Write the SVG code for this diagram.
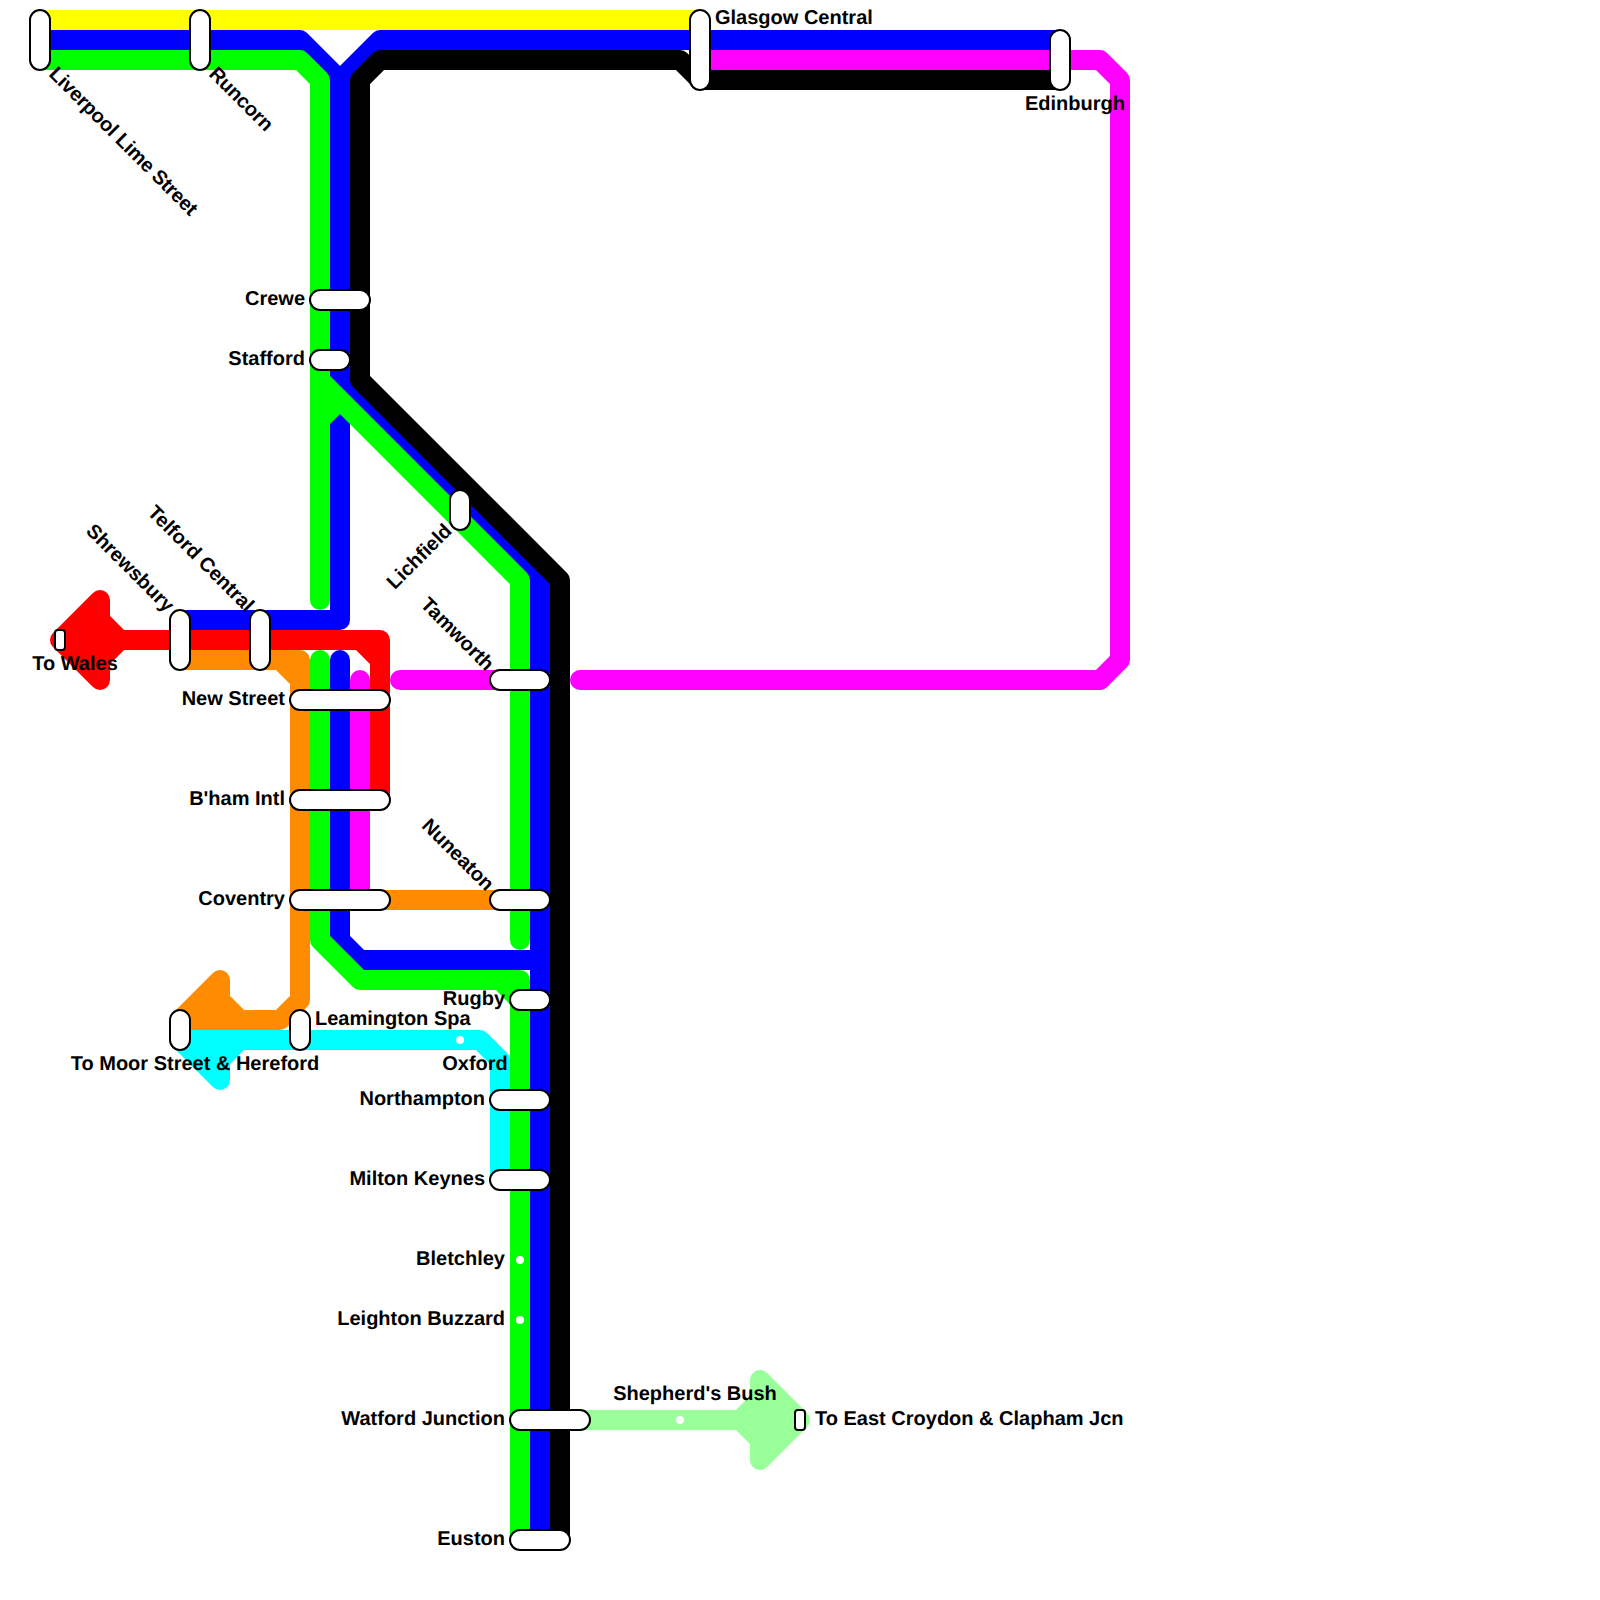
<svg xmlns="http://www.w3.org/2000/svg" width="1600" height="1600" viewBox="0 0 1600 1600">
<style>
.l{fill:none;stroke-width:20;stroke-linejoin:round}
.r{stroke-linecap:round}
.a{stroke-width:20;stroke-linejoin:round}
.s{fill:#fff;stroke:#000;stroke-width:2}
.d{fill:#fff}
text{font-family:"Liberation Sans",Arial,sans-serif;font-size:20px;font-weight:bold;fill:#000;text-rendering:geometricPrecision}
.e{text-anchor:end}
.m{text-anchor:middle}
.n{letter-spacing:-0.2px}
</style>
<rect width="1600" height="1600" fill="#fff"/>
<g id="connectors">
<path class="l" stroke="#ff0" d="M40 20H700"/>
<path class="l" stroke="#00f" d="M40 40H300L340 80V380L540 580V1540"/>
<path class="l" stroke="#00f" d="M340 80L380 40H1060"/>
<path class="l" stroke="#00f" d="M340 400V620H180"/>
<path class="l r" stroke="#00f" d="M340 660V940L360 960H540"/>
<path class="l" stroke="#0f0" d="M40 60H300L320 80V380"/>
<path class="l r" stroke="#0f0" d="M320 370V600"/>
<path class="l" stroke="#0f0" d="M320 420L340 400"/>
<path class="l r" stroke="#0f0" d="M320 380L520 580V940"/>
<path class="l r" stroke="#0f0" d="M320 660V940L360 980H520V1000"/>
<path class="l" stroke="#0f0" d="M500 980L520 1000V1540"/>
<path class="l" stroke="#000" d="M1060 80H700L680 60H380L360 80V380L560 580V1540"/>
<path class="l" stroke="#f0f" d="M700 60H1100L1120 80V660L1100 680H580"/>
<path class="l r" stroke="#f0f" d="M580 680H1100"/>
<path class="l r" stroke="#f0f" d="M400 680H520"/>
<path class="l r" stroke="#f0f" d="M360 680V900"/>
<path class="l" stroke="#f00" d="M60 640H380V670"/>
<path class="l" stroke="#f00" d="M360 640L380 660V800"/>
<path class="a" fill="#f00" stroke="#f00" d="M120 640L100 620V600L60 640L100 680V660Z"/>
<path class="l" stroke="#ff8c00" d="M180 660H300V690"/>
<path class="l" stroke="#ff8c00" d="M280 660L300 680V1000L280 1020H180"/>
<path class="l" stroke="#ff8c00" d="M380 900H510"/>
<path class="a" fill="#ff8c00" stroke="#ff8c00" d="M240 1020L220 1000V980L180 1020Z"/>
<path class="l" stroke="#0ff" d="M180 1040H480L500 1060V1180"/>
<path class="a" fill="#0ff" stroke="#0ff" d="M240 1040L220 1060V1080L180 1040Z"/>
<path class="l" stroke="#9f9" d="M580 1420H740"/>
<path class="a" fill="#9f9" stroke="#9f9" d="M740 1420L760 1400V1380L800 1420L760 1460V1440Z"/>
</g>
<g id="liverpool"><rect class="s" x="30" y="10" width="20" height="60" rx="10"/><text class="n" transform="translate(48 75) rotate(45)">Liverpool Lime Street</text></g>
<g id="runcorn"><rect class="s" x="190" y="10" width="20" height="60" rx="10"/><text class="n" transform="translate(208 75) rotate(45)">Runcorn</text></g>
<g id="glasgow"><rect class="s" x="690" y="10" width="20" height="80" rx="10"/><text x="715" y="24">Glasgow Central</text></g>
<g id="edinburgh"><rect class="s" x="1050" y="30" width="20" height="60" rx="10"/><text class="m" x="1075" y="110">Edinburgh</text></g>
<g id="crewe"><rect class="s" x="310" y="290" width="60" height="20" rx="10"/><text class="e" x="305" y="305">Crewe</text></g>
<g id="stafford"><rect class="s" x="310" y="350" width="40" height="20" rx="10"/><text class="e" x="305" y="365">Stafford</text></g>
<g id="lichfield"><rect class="s" x="450" y="490" width="20" height="40" rx="10"/><text class="e" transform="translate(453 532) rotate(-45)">Lichfield</text></g>
<g id="tamworth"><rect class="s" x="490" y="670" width="60" height="20" rx="10"/><text class="e" transform="translate(486 672) rotate(45)">Tamworth</text></g>
<g id="wales"><rect class="s" x="55" y="630" width="10" height="20" rx="3"/><text class="m" x="75" y="670">To Wales</text></g>
<g id="shrewsbury"><rect class="s" x="170" y="610" width="20" height="60" rx="10"/><text class="e" transform="translate(166 613) rotate(45)">Shrewsbury</text></g>
<g id="telford"><rect class="s" x="250" y="610" width="20" height="60" rx="10"/><text class="e" transform="translate(246 613) rotate(45)">Telford Central</text></g>
<g id="newstreet"><rect class="s" x="290" y="690" width="100" height="20" rx="10"/><text class="e" x="285" y="705">New Street</text></g>
<g id="bham"><rect class="s" x="290" y="790" width="100" height="20" rx="10"/><text class="e" x="285" y="805">B'ham Intl</text></g>
<g id="coventry"><rect class="s" x="290" y="890" width="100" height="20" rx="10"/><text class="e" x="285" y="905">Coventry</text></g>
<g id="nuneaton"><rect class="s" x="490" y="890" width="60" height="20" rx="10"/><text class="e" transform="translate(486 892) rotate(45)">Nuneaton</text></g>
<g id="rugby"><rect class="s" x="510" y="990" width="40" height="20" rx="10"/><text class="e" x="505" y="1005">Rugby</text></g>
<g id="moorstreet"><rect class="s" x="170" y="1010" width="20" height="40" rx="10"/><text class="m" x="195" y="1070">To Moor Street &amp; Hereford</text></g>
<g id="leamington"><rect class="s" x="290" y="1010" width="20" height="40" rx="10"/><text x="315" y="1025">Leamington Spa</text></g>
<g id="oxford"><circle class="d" cx="460" cy="1040" r="4"/><text class="m" x="475" y="1070">Oxford</text></g>
<g id="northampton"><rect class="s" x="490" y="1090" width="60" height="20" rx="10"/><text class="e" x="485" y="1105">Northampton</text></g>
<g id="miltonkeynes"><rect class="s" x="490" y="1170" width="60" height="20" rx="10"/><text class="e" x="485" y="1185">Milton Keynes</text></g>
<g id="bletchley"><circle class="d" cx="520" cy="1260" r="4"/><text class="e" x="505" y="1265">Bletchley</text></g>
<g id="leighton"><circle class="d" cx="520" cy="1320" r="4"/><text class="e" x="505" y="1325">Leighton Buzzard</text></g>
<g id="watford"><rect class="s" x="510" y="1410" width="80" height="20" rx="10"/><text class="e" x="505" y="1425">Watford Junction</text></g>
<g id="shepherds"><circle class="d" cx="680" cy="1420" r="4"/><text class="m" x="695" y="1400">Shepherd's Bush</text></g>
<g id="croydon"><rect class="s" x="795" y="1410" width="10" height="20" rx="3"/><text x="815" y="1425">To East Croydon &amp; Clapham Jcn</text></g>
<g id="euston"><rect class="s" x="510" y="1530" width="60" height="20" rx="10"/><text class="e" x="505" y="1545">Euston</text></g>
</svg>
